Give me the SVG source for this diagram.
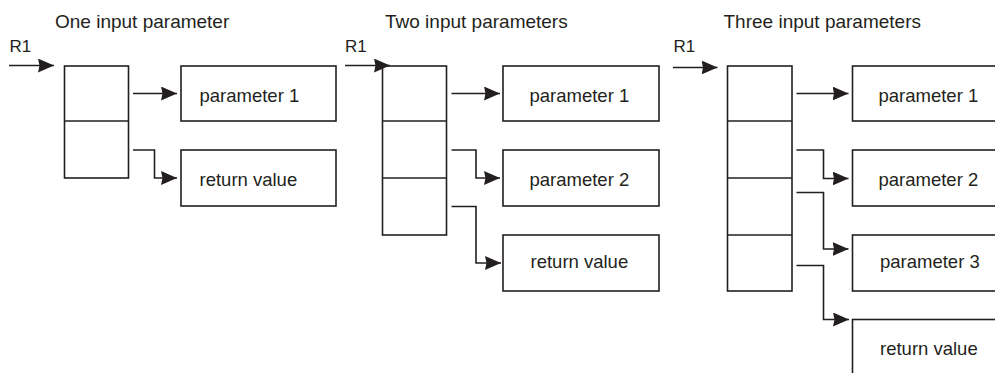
<svg xmlns="http://www.w3.org/2000/svg" width="995" height="373" viewBox="0 0 995 373">
  <style>
    .box { fill: #ffffff; stroke: #231f20; stroke-width: 1.6; }
    .line { fill: none; stroke: #231f20; stroke-width: 1.6; }
    .title { font-family: "Liberation Sans", Arial, sans-serif; font-size: 19px; fill: #231f20; }
    .reg { font-family: "Liberation Sans", Arial, sans-serif; font-size: 17px; fill: #231f20; }
    .label { font-family: "Liberation Sans", Arial, sans-serif; font-size: 18.5px; fill: #231f20; }
  </style>
  <defs>
    <marker id="arrow" markerUnits="userSpaceOnUse" markerWidth="18" markerHeight="15" refX="16" refY="7" orient="auto">
      <path d="M0,0 L16,7 L0,14 L1.5,7 Z" fill="#231f20"/>
    </marker>
  </defs>

  <rect width="995" height="373" fill="#ffffff"/>

  <!-- Panel titles and register labels -->
  <g id="titles">
    <text class="title" x="55" y="28">One input parameter</text>
    <text class="title" x="385" y="28">Two input parameters</text>
    <text class="title" x="723.5" y="28">Three input parameters</text>
    <text class="reg" x="9.5" y="52">R1</text>
    <text class="reg" x="345" y="52">R1</text>
    <text class="reg" x="673.5" y="52">R1</text>
  </g>

  <!-- One input parameter -->
  <g id="stack1">
    <rect class="box" x="64.5" y="66" width="64" height="112"/>
    <line class="line" x1="64.5" y1="121" x2="128.5" y2="121"/>
  </g>
  <g id="p1-param1">
    <rect class="box" x="181" y="66" width="155" height="55"/>
    <text class="label" x="199.5" y="101.5">parameter 1</text>
  </g>
  <g id="p1-return">
    <rect class="box" x="181" y="150" width="155" height="56"/>
    <text class="label" x="199.5" y="185.5">return value</text>
  </g>

  <!-- Two input parameters -->
  <g id="stack2">
    <rect class="box" x="382.5" y="66" width="64" height="169"/>
    <line class="line" x1="382.5" y1="121" x2="446.5" y2="121"/>
    <line class="line" x1="382.5" y1="178" x2="446.5" y2="178"/>
  </g>
  <g id="p2-param1">
    <rect class="box" x="503" y="66" width="156" height="55"/>
    <text class="label" x="529.5" y="101.5">parameter 1</text>
  </g>
  <g id="p2-param2">
    <rect class="box" x="503" y="150" width="156" height="56"/>
    <text class="label" x="529.5" y="185.5">parameter 2</text>
  </g>
  <g id="p2-return">
    <rect class="box" x="503" y="235" width="156" height="56"/>
    <text class="label" x="530.5" y="267.5">return value</text>
  </g>

  <!-- Three input parameters -->
  <g id="stack3">
    <rect class="box" x="727.5" y="66" width="64.5" height="225"/>
    <line class="line" x1="727.5" y1="121" x2="792" y2="121"/>
    <line class="line" x1="727.5" y1="178" x2="792" y2="178"/>
    <line class="line" x1="727.5" y1="235" x2="792" y2="235"/>
  </g>
  <g id="p3-param1">
    <rect class="box" x="852.5" y="66" width="160" height="55"/>
    <text class="label" x="878.5" y="101.5">parameter 1</text>
  </g>
  <g id="p3-param2">
    <rect class="box" x="852.5" y="150" width="160" height="56"/>
    <text class="label" x="878.5" y="185.5">parameter 2</text>
  </g>
  <g id="p3-param3">
    <rect class="box" x="852.5" y="235" width="160" height="56"/>
    <text class="label" x="880" y="267.5">parameter 3</text>
  </g>
  <g id="p3-return">
    <rect class="box" x="852.5" y="319.5" width="160" height="70"/>
    <text class="label" x="880" y="355">return value</text>
  </g>

  <!-- Connectors -->
  <g id="connectors">
    <path class="line" marker-end="url(#arrow)" d="M9,65.5 H54"/>
    <path class="line" marker-end="url(#arrow)" d="M133,93.5 H177"/>
    <path class="line" marker-end="url(#arrow)" d="M133,150 H154.5 V178 H177"/>

    <path class="line" marker-end="url(#arrow)" d="M345,65.5 H390"/>
    <path class="line" marker-end="url(#arrow)" d="M451.5,93.5 H500"/>
    <path class="line" marker-end="url(#arrow)" d="M451.5,150 H476 V178 H500"/>
    <path class="line" marker-end="url(#arrow)" d="M451.5,206.5 H476 V263 H501"/>

    <path class="line" marker-end="url(#arrow)" d="M673,67.5 H717.5"/>
    <path class="line" marker-end="url(#arrow)" d="M796.5,93.5 H848.5"/>
    <path class="line" marker-end="url(#arrow)" d="M796.5,150 H823.5 V178.5 H848.5"/>
    <path class="line" marker-end="url(#arrow)" d="M796.5,192.5 H823.5 V249 H848.5"/>
    <path class="line" marker-end="url(#arrow)" d="M796.5,265.5 H823.5 V319.5 H849"/>
  </g>
</svg>
